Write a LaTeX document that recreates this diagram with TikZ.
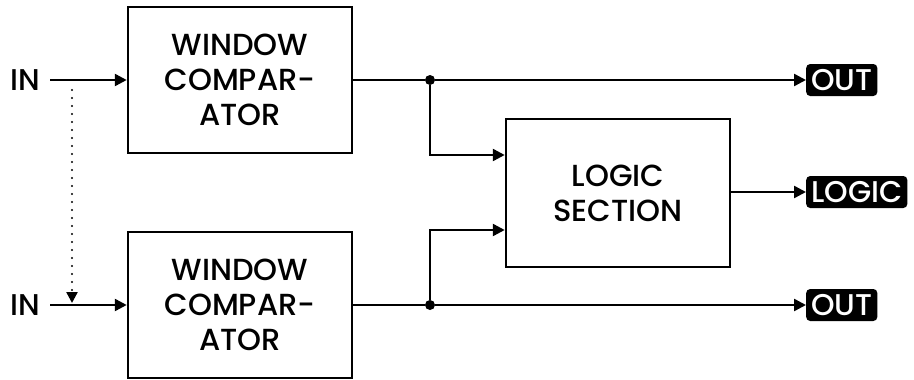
\documentclass[tikz,border=0pt]{standalone}
\usepackage{fontspec}
\setmainfont{Poppins Medium}
\usetikzlibrary{arrows.meta,positioning}

\begin{document}
\begin{tikzpicture}[
  x=1pt, y=-1pt,
  block/.style={draw=black, line width=2.5pt, align=center,
                minimum width=224pt, font=\fontsize{30.5}{35}\selectfont},
  tag/.style={fill=black, text=white, rounded corners=4pt, inner xsep=5pt,
              minimum height=32pt, font=\fontsize{30}{30}\selectfont},
  label/.style={font=\fontsize{30}{30}\selectfont},
  arrow/.style={-{Triangle[length=12pt,width=12pt]}, line width=2.5pt},
  wire/.style={line width=2.5pt},
  hint/.style={-{Triangle[length=11pt,width=11pt]}, line width=2.4pt,
               dash pattern=on 0pt off 8pt, line cap=round},
  dot/.style={circle, fill=black, inner sep=0pt, minimum size=10pt}
]
\useasboundingbox (0,0) rectangle (914,380);

% comparators and logic
\node[block, minimum height=146pt] (win1) at (240,80)
  {WINDOW\\COMPAR-\\ATOR};
\node[block, minimum height=146pt] (win2) at (240,305)
  {WINDOW\\COMPAR-\\ATOR};
\node[block, minimum height=148pt] (logic) at (618,193)
  {LOGIC\\SECTION};

% inputs and outputs
\node[label] (in1) at (25,80) {IN};
\node[label] (in2) at (25,305) {IN};
\node[tag, anchor=west] (out1) at (806,80) {OUT};
\node[tag, anchor=west] (outl) at (806,192) {LOGIC};
\node[tag, anchor=west] (out2) at (806,305) {OUT};

\node[dot] (j1) at (430,80) {};
\node[dot] (j2) at (430,305) {};
\coordinate (dtop) at (72,90);
\coordinate (dbot) at (72,303);

\draw[arrow] (50,80) -- (win1.west);
\draw[arrow] (50,305) -- (win2.west);
\draw[hint] (dtop) -- (dbot);

\draw[wire] (win1.east) -- (j1);
\draw[arrow] (j1) -- (out1.west);
\draw[arrow] (j1) |- ([yshift=38pt]logic.west);
\draw[wire] (win2.east) -- (j2);
\draw[arrow] (j2) -- (out2.west);
\draw[arrow] (j2) |- ([yshift=-37pt]logic.west);
\draw[arrow] (logic.east |- outl) -- (outl.west);
\end{tikzpicture}
\end{document}
